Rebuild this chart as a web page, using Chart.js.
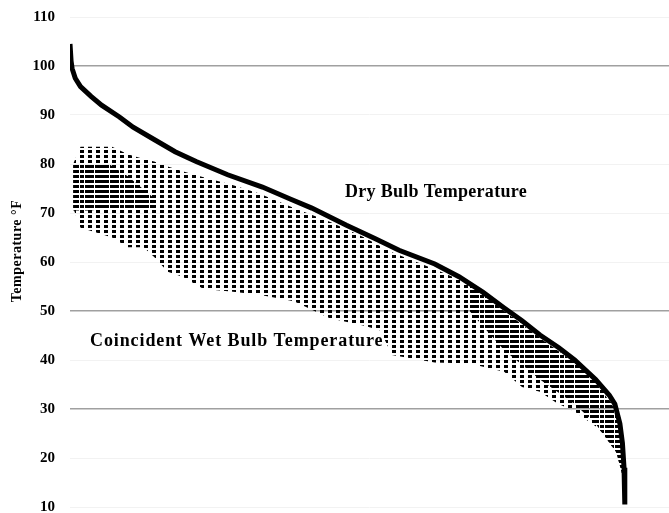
<!DOCTYPE html>
<html>
<head>
<meta charset="utf-8">
<script src="https://cdn.jsdelivr.net/npm/chart.js@4.4.1/dist/chart.umd.min.js"></script>
<style>
  html, body { margin: 0; padding: 0; background: #fff; }
  #wrap { width: 669px; height: 513px; position: relative; }
</style>
</head>
<body>
<div id="wrap"><canvas id="grafico"></canvas></div>
<script>
/* -------------------- DADOS -------------------- */
// hour rank (sorted by dry bulb), 8760 hours in the year
const dryHours = [0, 17, 33, 83, 166, 332, 498, 780, 996, 1328, 1659, 1991, 2489, 3037, 3485, 3817, 4364, 4812, 5194, 5758, 6140, 6521, 6853, 7135, 7418, 7716, 7965, 8297, 8513, 8600, 8680, 8720, 8745, 8755, 8760];
const dryTemps = [104.5, 101, 99.5, 97.5, 95.8, 93.8, 92, 89.6, 87.5, 85, 82.5, 80.5, 77.8, 75.3, 72.8, 71, 67.5, 64.8, 62.4, 59.6, 57, 53.8, 50.6, 48, 45.1, 42.5, 40, 36, 32.8, 31, 27, 23, 18, 14, 10.5];

// coincident wet bulb envelope (outer spread of the points)
const wetHours = [50, 166, 415, 664, 913, 1162, 1328, 1543, 1776, 2108, 2539, 2987, 3535, 4099, 4646, 4900, 5081, 5758, 6306, 6853, 7135, 7418, 7683, 7965, 8081, 8297, 8413, 8629, 8745];
const wetMax = [80, 83.5, 83.5, 83.5, 82, 81, 80.5, 79.5, 78.5, 77.3, 75.8, 74, 71, 68.2, 65, 63.2, 62, 58.5, 55.5, 50, 47.5, 44.5, 42, 39.5, 38.3, 35.5, 34, 29.5, 18];
const wetMin = [71, 67, 66, 65, 63, 63, 61, 58, 57, 54.5, 54, 53.3, 52, 48.5, 47, 46, 41, 39.5, 39.3, 37.6, 34.5, 33.5, 31.2, 29.5, 28.4, 26.5, 25, 21, 15];

// dense part of the cloud, low-hour end
const coreLeftHours = [50, 332, 614, 913, 1328];
const coreLeftMax = [80, 80, 80, 77.5, 73];
const coreLeftMin = [70.5, 70.5, 71, 71, 71];

// dense part of the cloud, high-hour end
const coreRightHours = [6306, 6853, 7418, 7965, 8297, 8629, 8745];
const coreRightMax = [55.5, 50, 44.5, 39.5, 35.5, 29.5, 18];
const coreRightMin = [50, 42, 36, 31, 27, 21, 15];

const yTicks = [10, 20, 30, 40, 50, 60, 70, 80, 90, 100, 110];
const strongGrid = [100, 50, 30];

const labelDry = "Dry Bulb Temperature";
const labelWet = "Coincident Wet Bulb Temperature";
const labelEixo = "Temperature °F";

/* -------------------- UTILIDADES -------------------- */
function pontos(xs, ys) {
    return xs.map((x, i) => ({ x, y: ys[i] }));
}

function padrao(w, h, dw, dh) {
    const c = document.createElement("canvas");
    c.width = w; c.height = h;
    const g = c.getContext("2d");
    g.fillStyle = "#000";
    g.fillRect(0, 0, dw, dh);
    return g.createPattern(c, "repeat");
}

const serif = "'Liberation Serif', 'Times New Roman', serif";

const textos = {
    id: "textos",
    afterDraw(chart) {
        const ctx = chart.ctx;
        ctx.save();
        ctx.fillStyle = "#000";
        ctx.font = "bold 18px " + serif;
        ctx.textBaseline = "alphabetic";
        ctx.textAlign = "left";
        ctx.letterSpacing = "0.3px";
        ctx.fillText(labelDry, 345, 197);
        ctx.letterSpacing = "0.9px";
        ctx.fillText(labelWet, 90, 346);

        ctx.letterSpacing = "0.5px";
        ctx.font = "bold 14px " + serif;
        ctx.translate(17, 251);
        ctx.rotate(-Math.PI / 2);
        ctx.textAlign = "center";
        ctx.textBaseline = "middle";
        ctx.fillText(labelEixo, 0, 0);
        ctx.restore();
    }
};

/* -------------------- GRAFICO -------------------- */
function montarGrafico() {
    const ctx = document.getElementById("grafico");
    const esparso = padrao(8, 5, 4, 3);
    const denso = padrao(5, 5, 4, 3);

    const linhaBase = { type: "line", pointRadius: 0, pointHoverRadius: 0, borderWidth: 0, tension: 0 };

    new Chart(ctx, {
        type: "line",
        data: {
            datasets: [
                { ...linhaBase, label: "Dry Bulb", data: pontos(dryHours, dryTemps), borderColor: "#000", borderWidth: 5, fill: false },
                { ...linhaBase, data: pontos(coreLeftHours, coreLeftMax), backgroundColor: denso, fill: "+1" },
                { ...linhaBase, data: pontos(coreLeftHours, coreLeftMin), fill: false },
                { ...linhaBase, data: pontos(coreRightHours, coreRightMax), backgroundColor: denso, fill: "+1" },
                { ...linhaBase, data: pontos(coreRightHours, coreRightMin), fill: false },
                { ...linhaBase, data: pontos(wetHours, wetMax), backgroundColor: esparso, fill: "+1" },
                { ...linhaBase, data: pontos(wetHours, wetMin), fill: false }
            ]
        },
        options: {
            responsive: true,
            maintainAspectRatio: false,
            animation: false,
            layout: { autoPadding: false, padding: { top: 17, bottom: 6, left: 0, right: 0 } },
            plugins: { legend: { display: false }, tooltip: { enabled: false } },
            scales: {
                x: { type: "linear", min: 0, max: 9455, display: false },
                y: {
                    min: 10, max: 110,
                    afterBuildTicks: s => { s.ticks = yTicks.map(v => ({ value: v })); },
                    afterFit: s => {
                        s.width = 70;
                        s.paddingTop = 0;
                        s.paddingBottom = 0;
                    },
                    border: { display: false },
                    grid: {
                        drawTicks: false,
                        color: c => strongGrid.includes(c.tick.value) ? "#a0a0a0" : "#f2f2f2",
                        lineWidth: c => strongGrid.includes(c.tick.value) ? 1.5 : 1
                    },
                    ticks: {
                        padding: 15,
                        color: "#000",
                        font: { family: serif, weight: "bold", size: 15 }
                    }
                }
            }
        },
        plugins: [textos]
    });
}

document.addEventListener("DOMContentLoaded", montarGrafico);
</script>
</body>
</html>
